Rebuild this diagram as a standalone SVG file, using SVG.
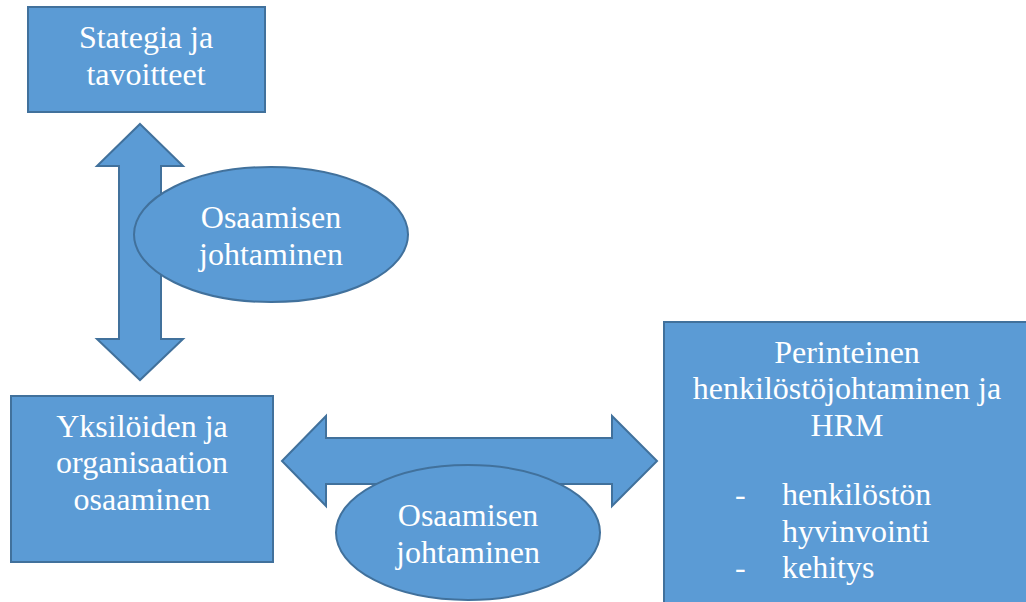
<svg xmlns="http://www.w3.org/2000/svg" width="1026" height="602" viewBox="0 0 1026 602">
  <style>
    .shape { fill: #5B9BD5; stroke: #41719C; stroke-width: 2; }
    .t { font-family: "Liberation Serif", "Times New Roman", serif; font-size: 32px; fill: #FFFFFF; }
    .c { text-anchor: middle; }
  </style>
  <rect width="1026" height="602" fill="#FFFFFF"/>
  <g id="connectors">
    <polygon id="arrow-vertical" class="shape" points="140,124 183,166 161,166 161,339 183,339 140,380 97,339 119,339 119,166 97,166"/>
    <polygon id="arrow-horizontal" class="shape" points="282,461 326,416 326,438 612,438 612,416 657,461 612,506 612,484 326,484 326,506"/>
  </g>
  <g id="node-strategia">
    <rect class="shape" x="28" y="7" width="237" height="105"/>
    <text class="t c" x="146" y="48">Stategia ja</text>
    <text class="t c" x="146" y="85">tavoitteet</text>
  </g>
  <g id="node-osaaminen">
    <rect class="shape" x="11" y="396" width="262" height="166"/>
    <text class="t c" x="142" y="437">Yksilöiden ja</text>
    <text class="t c" x="142" y="473">organisaation</text>
    <text class="t c" x="142" y="510">osaaminen</text>
  </g>
  <g id="node-hrm">
    <rect class="shape" x="664" y="322" width="370" height="290"/>
    <text class="t c" x="847" y="363">Perinteinen</text>
    <text class="t c" x="847" y="399">henkilöstöjohtaminen ja</text>
    <text class="t c" x="847" y="436">HRM</text>
    <text class="t" x="735" y="505">-</text>
    <text class="t" x="782" y="505">henkilöstön</text>
    <text class="t" x="782" y="542">hyvinvointi</text>
    <text class="t" x="735" y="578">-</text>
    <text class="t" x="782" y="578">kehitys</text>
  </g>
  <g id="label-upper">
    <ellipse class="shape" cx="271" cy="234.5" rx="137" ry="67.5"/>
    <text class="t c" x="271" y="228">Osaamisen</text>
    <text class="t c" x="271" y="265">johtaminen</text>
  </g>
  <g id="label-lower">
    <ellipse class="shape" cx="468" cy="532.5" rx="132" ry="67.5"/>
    <text class="t c" x="468" y="526">Osaamisen</text>
    <text class="t c" x="468" y="563">johtaminen</text>
  </g>
</svg>
